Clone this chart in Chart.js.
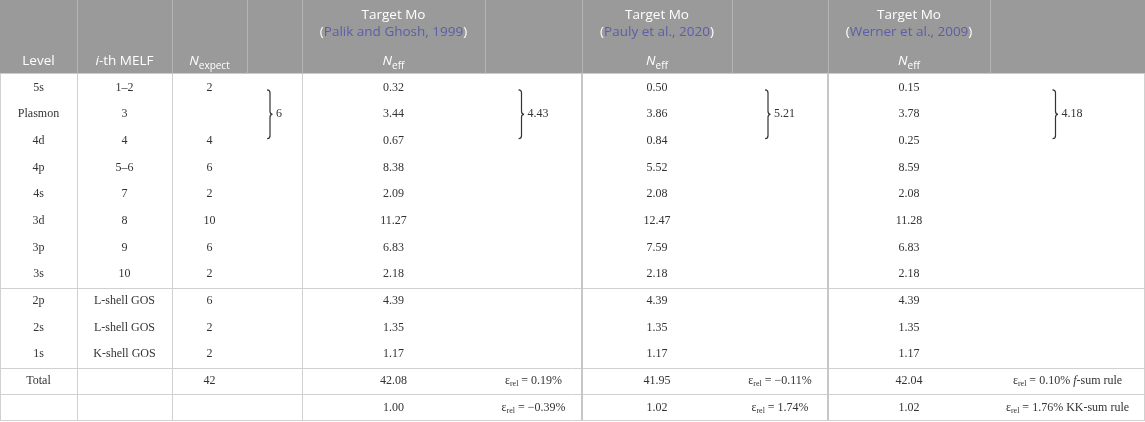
<!DOCTYPE html>
<html><head><meta charset="utf-8">
<script src="https://cdn.jsdelivr.net/npm/chart.js@4.4.0/dist/chart.umd.min.js"></script>
<style>html,body{margin:0;padding:0;background:#fff}#wrap{width:1145px;height:422px;position:relative}</style>
</head><body><div id="wrap"><canvas id="c"></canvas></div>
<script>
// ---------- DATA ----------
const levels = ['5s','Plasmon','4d','4p','4s','3d','3p','3s','2p','2s','1s','Total',''];
const melf = ['1–2','3','4','5–6','7','8','9','10','L-shell GOS','L-shell GOS','K-shell GOS','',''];
const nExpect = ['2','','4','6','2','10','6','2','6','2','2','42',''];
const neffPalik = [0.32,3.44,0.67,8.38,2.09,11.27,6.83,2.18,4.39,1.35,1.17,42.08,1.00];
const neffPauly = [0.50,3.86,0.84,5.52,2.08,12.47,7.59,2.18,4.39,1.35,1.17,41.95,1.02];
const neffWerner = [0.15,3.78,0.25,8.59,2.08,11.28,6.83,2.18,4.39,1.35,1.17,42.04,1.02];
const errRows = [11,12];
const errPalik = ['0.19%','−0.39%'];
const errPauly = ['−0.11%','1.74%'];
const errWerner = ['0.10%','1.76%'];
const ruleLabels = [['f','-sum rule'],['','KK-sum rule']];
const groupRows = [0,1,2];
const groupNexp = '6';
const groupPalik = '4.43';
const groupPauly = '5.21';
const groupWerner = '4.18';
const targetLabel = 'Target Mo';
const sources = ['Palik and Ghosh, 1999','Pauly et al., 2020','Werner et al., 2009'];

// ---------- LAYOUT / STYLE ----------
const colEdges = [0,77,172,247,302,485,582,732,828,990,1145];
const colCenter = i => (colEdges[i] + colEdges[i+1]) / 2;
const SERIF = '"Liberation Serif","Times New Roman",serif';
const SANS = '"Open Sans","Noto Sans",sans-serif';
const F = {
  body: '12px ' + SERIF, bodyI: 'italic 12px ' + SERIF, sub: '8px ' + SERIF,
  head: '13.5px ' + SANS, headI: 'italic 13.5px ' + SANS, headSub: '10px ' + SANS
};
const TXT = '#333333', HEADBG = '#9a9a9a', HEADLINE = '#b4b4b4', GRID = '#d0d0d0', GRID2 = '#c6c6c6', CITE = '#5b5ea8';

const S = (t, font, dy, color) => ({t, font: font || F.body, dy: dy || 0, color});
const plain = v => v === '' ? null : [S(v)];
const num = v => [S(v.toFixed(2))];
const eps = (v, extra) => {
  const segs = [S('ε'), S('rel', F.sub, 3), S(' = ' + v)];
  if (extra) {
    if (extra[0]) { segs.push(S(' ')); segs.push(S(extra[0], F.bodyI)); segs.push(S(extra[1])); }
    else segs.push(S(' ' + extra[1]));
  }
  return segs;
};

function colDataset(col, cells, rows) {
  const pts = [], c = [];
  cells.forEach((cell, k) => {
    if (!cell) return;
    pts.push({x: colCenter(col), y: rows ? rows[k] : k});
    c.push(cell);
  });
  return {data: pts, cells: c, pointRadius: 0, pointHoverRadius: 0, showLine: false};
}

const datasets = [
  colDataset(0, levels.map(plain)),
  colDataset(1, melf.map(plain)),
  colDataset(2, nExpect.map(plain)),
  colDataset(4, neffPalik.map(num)),
  colDataset(6, neffPauly.map(num)),
  colDataset(8, neffWerner.map(num)),
  colDataset(5, errPalik.map(v => eps(v)), errRows),
  colDataset(7, errPauly.map(v => eps(v)), errRows),
  colDataset(9, errWerner.map((v, k) => eps(v, ruleLabels[k])), errRows)
];
// brace groups
const braceGroups = [[3, groupNexp],[5, groupPalik],[7, groupPauly],[9, groupWerner]];
braceGroups.forEach(([col, val]) => {
  datasets.push({data: [{x: colCenter(col), y: groupRows[1]}], cells: [[S(val)]], brace: true,
    pointRadius: 0, pointHoverRadius: 0});
});

function richWidth(ctx, segs) {
  let w = 0;
  segs.forEach(s => { ctx.font = s.font; w += ctx.measureText(s.t).width; });
  return w;
}
function drawRich(ctx, segs, x, y, color, align) {
  const w = richWidth(ctx, segs);
  let cx = align === 'left' ? x : x - w / 2;
  ctx.textBaseline = 'middle';
  ctx.textAlign = 'left';
  segs.forEach(s => {
    ctx.font = s.font;
    ctx.fillStyle = s.color || color;
    ctx.fillText(s.t, cx, y + s.dy);
    cx += ctx.measureText(s.t).width;
  });
}
function drawBrace(ctx, x0, top, bot) {
  const mid = (top + bot) / 2, h = 3, w = 5.5, r = 3;
  ctx.beginPath();
  ctx.moveTo(x0, top);
  ctx.quadraticCurveTo(x0 + h, top, x0 + h, top + r);
  ctx.lineTo(x0 + h, mid - r);
  ctx.quadraticCurveTo(x0 + h, mid, x0 + w, mid);
  ctx.quadraticCurveTo(x0 + h, mid, x0 + h, mid + r);
  ctx.lineTo(x0 + h, bot - r);
  ctx.quadraticCurveTo(x0 + h, bot, x0, bot);
  ctx.strokeStyle = TXT; ctx.lineWidth = 1.2; ctx.stroke();
}

const tablePlugin = {
  id: 'table',
  beforeDatasetsDraw(chart) {
    const ctx = chart.ctx, xs = chart.scales.x, ys = chart.scales.y, a = chart.chartArea;
    const W = chart.width, H = chart.height;
    ctx.save();
    // header
    const hb = a.top - 0.5;
    ctx.fillStyle = HEADBG; ctx.fillRect(0, 0, W, hb);
    ctx.strokeStyle = HEADLINE; ctx.lineWidth = 1;
    for (let i = 1; i < colEdges.length - 1; i++) {
      const x = Math.round(xs.getPixelForValue(colEdges[i])) + 0.5;
      ctx.beginPath(); ctx.moveTo(x, 0); ctx.lineTo(x, hb); ctx.stroke();
    }
    // header text
    const white = '#ffffff';
    const y1 = 15, y2 = 32, y3 = 61;
    drawRich(ctx, [S('Level', F.head)], xs.getPixelForValue(colCenter(0)), y3, white);
    drawRich(ctx, [S('i', F.headI), S('-th MELF', F.head)], xs.getPixelForValue(colCenter(1)), y3, white);
    drawRich(ctx, [S('N', F.headI), S('expect', F.headSub, 5)], xs.getPixelForValue(colCenter(2)), y3, white);
    [4, 6, 8].forEach((col, k) => {
      const cx = xs.getPixelForValue(colCenter(col));
      drawRich(ctx, [S(targetLabel, F.head)], cx, y1, white);
      drawRich(ctx, [S('(', F.head), S(sources[k], F.head, 0, CITE), S(')', F.head)], cx, y2, white);
      drawRich(ctx, [S('N', F.headI), S('eff', F.headSub, 5)], cx, y3, white);
    });
    // body grid
    ctx.strokeStyle = GRID; ctx.lineWidth = 1;
    [7.5, 10.5, 11.5].forEach(v => {
      const y = Math.round(ys.getPixelForValue(v)) + 0.5;
      ctx.beginPath(); ctx.moveTo(0, y); ctx.lineTo(W, y); ctx.stroke();
    });
    const yb = Math.round(ys.getPixelForValue(12.5)) - 0.5;
    ctx.beginPath(); ctx.moveTo(0, yb); ctx.lineTo(W, yb); ctx.stroke();
    [0, 1, 2, 4].forEach(i => {
      const x = i === 0 ? 0.5 : Math.round(xs.getPixelForValue(colEdges[i])) + 0.5;
      ctx.beginPath(); ctx.moveTo(x, a.top); ctx.lineTo(x, yb); ctx.stroke();
    });
    ctx.beginPath(); ctx.moveTo(W - 0.5, a.top); ctx.lineTo(W - 0.5, yb); ctx.stroke();
    ctx.strokeStyle = GRID2; ctx.lineWidth = 2;
    [6, 8].forEach(i => {
      const x = Math.round(xs.getPixelForValue(colEdges[i]));
      ctx.beginPath(); ctx.moveTo(x, a.top); ctx.lineTo(x, yb); ctx.stroke();
    });
    ctx.restore();
  },
  afterDatasetsDraw(chart) {
    const ctx = chart.ctx, ys = chart.scales.y;
    ctx.save();
    chart.data.datasets.forEach((ds, i) => {
      const meta = chart.getDatasetMeta(i);
      meta.data.forEach((el, j) => {
        const segs = ds.cells[j];
        if (ds.brace) {
          const tw = richWidth(ctx, segs), bw = 6, gap = 3;
          const start = el.x - (bw + gap + tw) / 2;
          const top = ys.getPixelForValue(groupRows[0]) + 2.5;
          const bot = ys.getPixelForValue(groupRows[2]) - 2;
          drawBrace(ctx, start, top, bot);
          drawRich(ctx, segs, start + bw + gap, el.y, TXT, 'left');
        } else {
          drawRich(ctx, segs, el.x, el.y, TXT);
        }
      });
    });
    ctx.restore();
  }
};

new Chart(document.getElementById('c'), {
  type: 'scatter',
  data: {datasets},
  options: {
    responsive: true, maintainAspectRatio: false, animation: false,
    events: [],
    layout: {padding: {top: 74, bottom: 1, left: 0, right: 0}},
    plugins: {legend: {display: false}, tooltip: {enabled: false}},
    scales: {
      x: {type: 'linear', min: 0, max: 1145, display: false},
      y: {type: 'linear', min: -0.5, max: 12.5, reverse: true, display: false}
    }
  },
  plugins: [tablePlugin]
});
</script>
</body></html>
